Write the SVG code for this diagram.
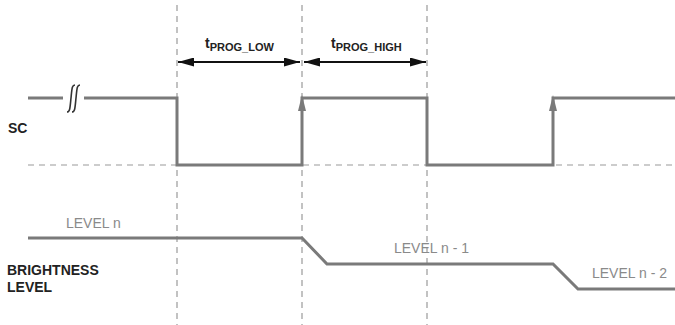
<svg xmlns="http://www.w3.org/2000/svg" width="675" height="325" viewBox="0 0 675 325">
<defs>
<style>
.dash{stroke:#9a9a9a;stroke-width:1.2;stroke-dasharray:6,5;fill:none}
.sig{stroke:#7a7a7a;stroke-width:3;fill:none}
.tim{stroke:#111;stroke-width:1.8;fill:none}
.lbl{font-family:"Liberation Sans",Arial,sans-serif;font-weight:bold;fill:#222}
.lvl{font-family:"Liberation Sans",Arial,sans-serif;font-size:14px;fill:#8a8a8a}
</style>
<marker id="ah" viewBox="0 0 16 9" refX="16" refY="4.5" markerWidth="16" markerHeight="9" markerUnits="userSpaceOnUse" orient="auto-start-reverse">
<path d="M0,0 L16,4.5 L0,9 Z" fill="#111"/>
</marker>
</defs>
<rect width="675" height="325" fill="#fff"/>
<g id="gridlines">
<line class="dash" x1="177" y1="5" x2="177" y2="325"/>
<line class="dash" x1="302" y1="5" x2="302" y2="325"/>
<line class="dash" x1="427" y1="5" x2="427" y2="325"/>
<line class="dash" x1="28" y1="165" x2="675" y2="165"/>
</g>
<g id="sc-signal">
<path class="sig" d="M28,98 H63 M84,98 H177 V165 H302 V98 H427 V165 H553 V98 H675"/>
<path d="M67,112 C70,112 70,108 71,98 C72,88 72,85 75,85 M72,112 C75,112 75,108 76,98 C77,88 77,85 80,85" stroke="#333" stroke-width="1.6" fill="none"/>
<path d="M302,95 L306,111 L298,111 Z" fill="#7a7a7a"/>
<path d="M553,95 L557,111 L549,111 Z" fill="#7a7a7a"/>
</g>
<g id="brightness-signal">
<path class="sig" d="M28,238 H302 L327,264 H553 L578,289 H675"/>
</g>
<g id="connectors">
<line class="tim" x1="178" y1="62" x2="300" y2="62" marker-start="url(#ah)" marker-end="url(#ah)"/>
<line class="tim" x1="304" y1="62" x2="426" y2="62" marker-start="url(#ah)" marker-end="url(#ah)"/>
</g>
<g id="label-tprog-low">
<text class="lbl" x="205" y="48" font-size="14">t<tspan font-size="11" dy="3">PROG_LOW</tspan></text>
</g>
<g id="label-tprog-high">
<text class="lbl" x="331" y="48" font-size="14">t<tspan font-size="11" dy="3">PROG_HIGH</tspan></text>
</g>
<g id="label-sc">
<text class="lbl" x="8" y="133" font-size="14">SC</text>
</g>
<g id="label-brightness">
<text class="lbl" x="7" y="275" font-size="14">BRIGHTNESS</text>
<text class="lbl" x="7" y="292" font-size="14">LEVEL</text>
</g>
<g id="level-labels">
<text class="lvl" x="66" y="228">LEVEL n</text>
<text class="lvl" x="394" y="253">LEVEL n - 1</text>
<text class="lvl" x="592" y="278">LEVEL n - 2</text>
</g>
</svg>
